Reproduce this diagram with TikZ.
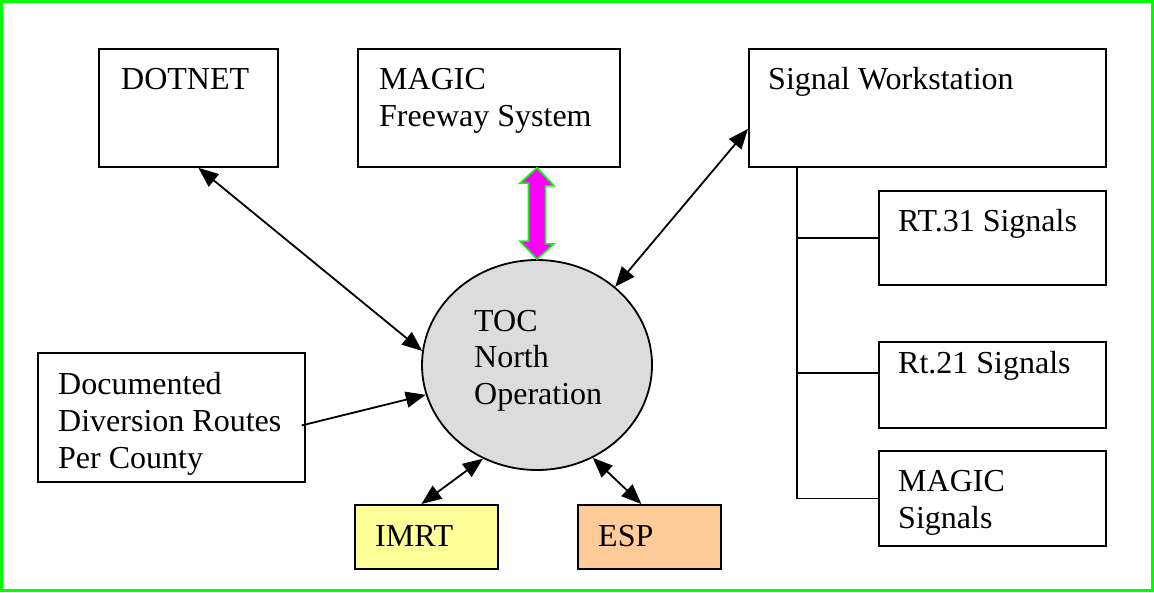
\documentclass[tikz,border=0pt]{standalone}
\usepackage{fontspec}
\setmainfont{Liberation Serif}
\usetikzlibrary{shapes.geometric,arrows.meta,calc}
\definecolor{brdgreen}{RGB}{0,255,0}
\definecolor{tocgray}{RGB}{220,220,220}
\definecolor{imrtyellow}{RGB}{255,255,153}
\definecolor{esporange}{RGB}{255,204,153}
\definecolor{magarrow}{RGB}{255,0,255}
\tikzset{
  box/.style={draw=black, line width=1.8pt, rectangle, inner sep=0pt, anchor=north west},
  txt/.style={anchor=base west, inner sep=0pt, font=\fontsize{32}{37}\selectfont, align=left},
  link/.style={line width=1.8pt, {Triangle[length=20pt,width=16pt]}-{Triangle[length=20pt,width=16pt]}},
  onelink/.style={line width=1.8pt, -{Triangle[length=20pt,width=16pt]}},
  tree/.style={line width=1.8pt},
}
\begin{document}
\begin{tikzpicture}[x=1pt,y=-1pt]
\useasboundingbox (0,0) rectangle (1154,592);
\draw[brdgreen, line width=2.5pt] (1.5,1.5) rectangle (1152.5,590.5);

% boxes
\node[box, minimum width=179, minimum height=118] (dotnet) at (98,48) {};
\node[box, minimum width=262, minimum height=118] (magic) at (357,48) {};
\node[box, minimum width=357, minimum height=118] (sws) at (748,48) {};
\node[box, minimum width=227, minimum height=94] (rt31) at (878,190) {};
\node[box, minimum width=227, minimum height=86] (rt21) at (878,341) {};
\node[box, minimum width=227, minimum height=95] (magsig) at (878,450) {};
\node[box, minimum width=267, minimum height=129] (doc) at (37,352) {};
\node[box, fill=imrtyellow, minimum width=143, minimum height=64] (imrt) at (354,504) {};
\node[box, fill=esporange, minimum width=143, minimum height=64] (esp) at (577,504) {};
\node[ellipse, draw=black, line width=1.8pt, fill=tocgray, minimum width=230, minimum height=210, inner sep=0pt] (toc) at (537,365) {};

% texts
\node[txt] (t1) at ($(dotnet.north west)+(23,41)$) {DOTNET};
\node[txt] (t2) at ($(magic.north west)+(22,41)$) {MAGIC};
\node[txt] (t3) at ($(magic.north west)+(22,78)$) {Freeway System};
\node[txt] (t4) at ($(sws.north west)+(20,41)$) {Signal Workstation};
\node[txt] (t5) at ($(rt31.north west)+(20,41)$) {RT.31 Signals};
\node[txt] (t6) at ($(rt21.north west)+(20,32)$) {Rt.21 Signals};
\node[txt] (t7) at ($(magsig.north west)+(20,41)$) {MAGIC};
\node[txt] (t8) at ($(magsig.north west)+(20,78)$) {Signals};
\node[txt] (t9) at ($(doc.north west)+(21,42)$) {Documented};
\node[txt] (t10) at ($(doc.north west)+(21,79)$) {Diversion Routes};
\node[txt] (t11) at ($(doc.north west)+(21,116)$) {Per County};
\node[txt] (t12) at ($(imrt.north west)+(21,42)$) {IMRT};
\node[txt] (t13) at ($(esp.north west)+(21,42)$) {ESP};
\node[txt] (t14) at (474,331) {TOC};
\node[txt] (t15) at (474,367) {North};
\node[txt] (t16) at (474,404) {Operation};

% tree
\coordinate (trunk) at ($(sws.south west)+(49,0)$);
\draw[tree] (trunk) |- (magsig.west);
\draw[tree] (trunk |- rt31.west) -- (rt31.west);
\draw[tree] ($(trunk |- rt21.west)+(0,-12)$) -- ($(rt21.west)+(0,-12)$);

% connectors
\draw[link] ($(dotnet.south)+(10,0)$) -- (toc.173);
\draw[link] ($(sws.west)+(0,21)$) -- (toc.45);
\draw[onelink] ($(doc.east)+(-4,8)$) -- (toc.195);
\draw[link] ($(imrt.north)+(-5,0)$) -- (toc.240);
\draw[link] ($(esp.north)+(-8,0)$) -- (toc.301);

% magenta block arrow
\coordinate (mt) at (magic.south -| toc.north);
\draw[brdgreen, fill=magarrow, line width=1.6pt, line join=miter]
  (mt) -- ++(17,18) -- ++(-8.5,0) -- ++(0,58) -- ++(8.5,0) -- (toc.north)
  -- ++(-17,-18) -- ++(8.5,0) -- ++(0,-58) -- ++(-8.5,0) -- cycle;
\end{tikzpicture}
\end{document}
